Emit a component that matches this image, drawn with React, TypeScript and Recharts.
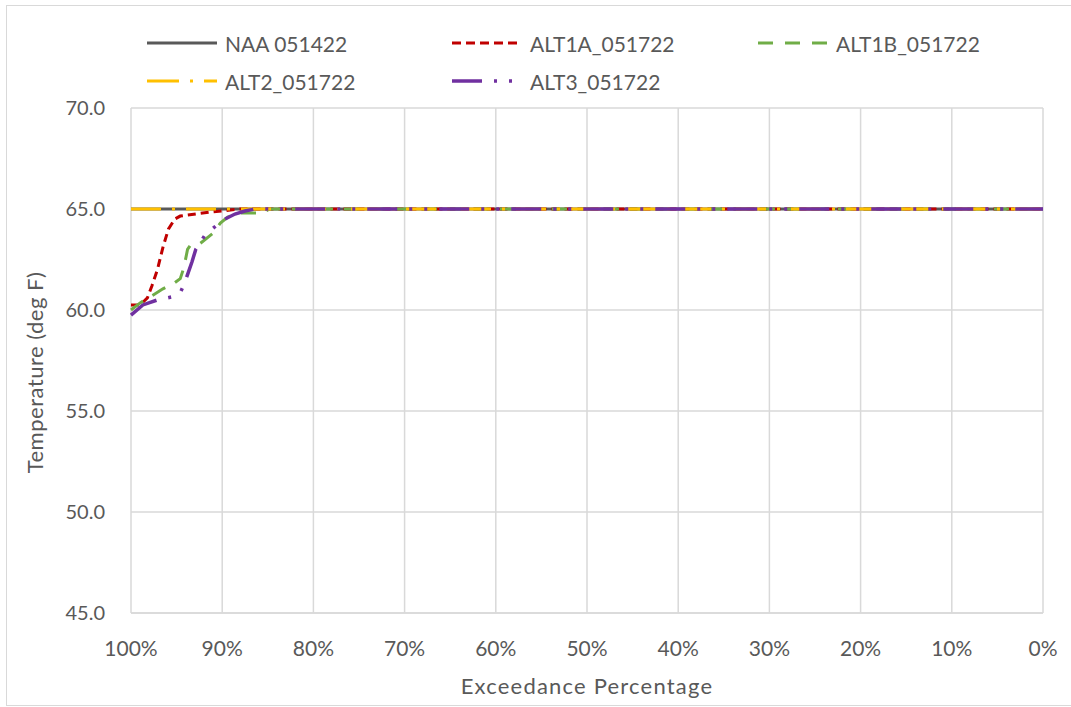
import { LineChart, Line, XAxis, YAxis, CartesianGrid, Legend } from 'recharts';

// exceedance (%) and temperature (deg F) per run
const naaPct = [100, 0];
const naaTemp = [65.0, 65.0];

const alt1aPct = [100, 99.0, 98.2, 97.7, 97.1, 96.5, 95.9, 95.2, 94.6, 91.3, 88.0, 0];
const alt1aTemp = [60.25, 60.25, 60.6, 61.2, 62.0, 63.1, 64.0, 64.5, 64.65, 64.85, 65.0, 65.0];

const alt1bPct = [100, 99.0, 97.9, 96.5, 95.2, 94.6, 94.2, 93.8, 93.5, 92.4, 91.0, 90.2, 89.4, 88.0, 85.6, 84.8, 0];
const alt1bTemp = [60.0, 60.35, 60.65, 61.05, 61.35, 61.55, 62.1, 63.0, 63.2, 63.3, 63.8, 64.3, 64.6, 64.8, 64.8, 65.0, 65.0];

const alt2Pct = [100, 0];
const alt2Temp = [65.0, 65.0];

const alt3Pct = [100, 98.7, 97.1, 95.5, 94.6, 94.2, 93.8, 93.3, 92.9, 91.9, 90.6, 89.7, 88.6, 87.5, 86.4, 0];
const alt3Temp = [59.75, 60.25, 60.5, 60.65, 60.85, 61.25, 61.75, 62.4, 63.0, 63.7, 64.2, 64.5, 64.75, 64.9, 65.0, 65.0];

const xTicks = [100, 90, 80, 70, 60, 50, 40, 30, 20, 10, 0];
const yTicks = [45, 50, 55, 60, 65, 70];

const toPoints = (pct: number[], temp: number[]) => pct.map((p, i) => ({ pct: p, temp: temp[i] }));

const series = [
  { name: 'NAA 051422', data: toPoints(naaPct, naaTemp), color: '#595959', dash: undefined, legendDash: undefined, width: 3 },
  { name: 'ALT1A_051722', data: toPoints(alt1aPct, alt1aTemp), color: '#C00000', dash: '8 5', legendDash: '9 5', width: 3 },
  { name: 'ALT1B_051722', data: toPoints(alt1bPct, alt1bTemp), color: '#70AD47', dash: '15 11', legendDash: '15 12', width: 3 },
  { name: 'ALT2_051722', data: toPoints(alt2Pct, alt2Temp), color: '#FFC000', dash: '30 11 3 11', legendDash: '32 11 3 11', width: 3 },
  { name: 'ALT3_051722', data: toPoints(alt3Pct, alt3Temp), color: '#7030A0', dash: '30 12 3 12 3 12', legendDash: '30 12 3 12 3 12', width: 3.5 },
];

const FONT = 'Lato, "Open Sans", sans-serif';
const TEXT = '#595959';

// legend column / row positions (chart coords)
const colX = [140, 445, 751];
const rowY = [37, 75];

function LegendBox() {
  return (
    <div style={{ position: 'relative', width: 1063, height: 100 }}>
      {series.map((s, i) => {
        const col = i < 3 ? i : i - 3;
        const row = i < 3 ? 0 : 1;
        return (
          <div
            key={s.name}
            style={{
              position: 'absolute',
              left: colX[col],
              top: rowY[row] - 14,
              height: 28,
              display: 'flex',
              alignItems: 'center',
              whiteSpace: 'nowrap',
            }}
          >
            <svg width={70} height={10} style={{ marginRight: 8 }}>
              <line x1={0} y1={5} x2={70} y2={5} stroke={s.color} strokeWidth={s.width} strokeDasharray={s.legendDash} />
            </svg>
            <span style={{ fontFamily: FONT, fontSize: 21, color: TEXT }}>{s.name}</span>
          </div>
        );
      })}
    </div>
  );
}

export default function App() {
  return (
    <div
      style={{
        position: 'absolute',
        left: 6,
        top: 5,
        width: 1065,
        height: 701,
        border: '1px solid #D9D9D9',
        borderRight: 'none',
        boxSizing: 'border-box',
        background: '#fff',
      }}
    >
      <LineChart width={1064} height={699} margin={{ top: 2, right: 28, left: 8, bottom: 32 }}>
        <CartesianGrid stroke="#D9D9D9" strokeWidth={1.5} verticalValues={xTicks} horizontalValues={yTicks} />
        <XAxis
          dataKey="pct"
          type="number"
          domain={[0, 100]}
          reversed
          ticks={xTicks}
          tickFormatter={(v: number) => `${v}%`}
          allowDuplicatedCategory={false}
          height={60}
          axisLine={{ stroke: '#D9D9D9', strokeWidth: 1.5 }}
          tickLine={false}
          tickSize={6}
          tickMargin={22}
          tick={{ fill: TEXT, fontSize: 21, fontFamily: FONT }}
          label={{ value: 'Exceedance Percentage', position: 'bottom', offset: 5, fill: TEXT, fontSize: 22, fontFamily: FONT, letterSpacing: 1.2 }}
        />
        <YAxis
          type="number"
          domain={[45, 70]}
          ticks={yTicks}
          tickFormatter={(v: number) => v.toFixed(1)}
          width={116}
          axisLine={false}
          tickLine={false}
          tickSize={6}
          tickMargin={20}
          tick={{ fill: TEXT, fontSize: 20, fontFamily: FONT }}
          label={{
            content: ({ viewBox }: any) => {
              const cx = viewBox.x + 19;
              const cy = viewBox.y + viewBox.height / 2 + 12;
              return (
                <text
                  x={cx}
                  y={cy}
                  transform={`rotate(-90 ${cx} ${cy})`}
                  textAnchor="middle"
                  dominantBaseline="central"
                  fill={TEXT}
                  fontSize={22}
                  letterSpacing={0.5}
                  fontFamily={FONT}
                >
                  Temperature (deg F)
                </text>
              );
            },
          }}
        />
        <Legend
          verticalAlign="top"
          wrapperStyle={{ top: 0, left: 0, width: 1063 }}
          content={() => <LegendBox />}
        />
        {series.map((s) => (
          <Line
            key={s.name}
            data={s.data}
            dataKey="temp"
            name={s.name}
            type="linear"
            stroke={s.color}
            strokeWidth={s.width}
            strokeDasharray={s.dash}
            dot={false}
            activeDot={false}
            isAnimationActive={false}
          />
        ))}
      </LineChart>
    </div>
  );
}
